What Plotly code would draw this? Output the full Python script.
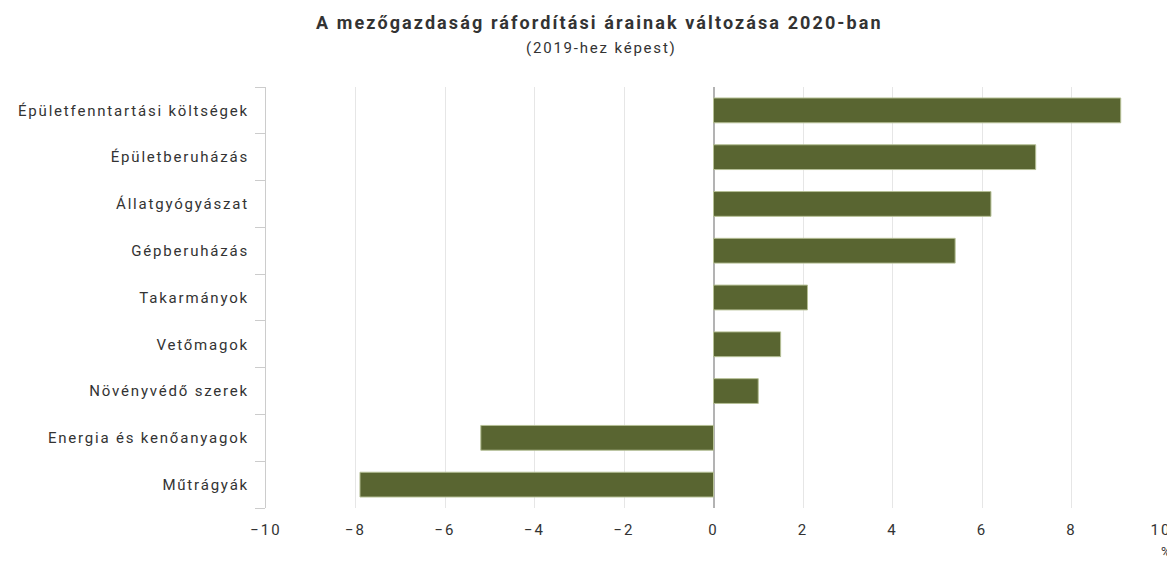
import plotly.graph_objects as go

categories = ["Épületfenntartási költségek", "Épületberuházás", "Állatgyógyászat",
              "Gépberuházás", "Takarmányok", "Vetőmagok", "Növényvédő szerek",
              "Energia és kenőanyagok", "Műtrágyák"]
values = [9.1, 7.2, 6.2, 5.4, 2.1, 1.5, 1.0, -5.2, -7.9]
x_ticks = [-10, -8, -6, -4, -2, 0, 2, 4, 6, 8, 10]
x_tick_labels = ["−10", "−8", "−6", "−4", "−2", "0", "2", "4", "6", "8", "10"]
title = "A mezőgazdaság ráfordítási árainak változása 2020-ban"
subtitle = "(2019-hez képest)"
unit = "%"


def ls(text, px):
    return f'<span style="letter-spacing:{px}px">{text}</span>'


fig = go.Figure(go.Bar(
    y=categories, x=values, orientation="h",
    marker=dict(color="#596531", line=dict(color="#b5bf95", width=1)),
))

font = "Roboto, sans-serif"
# page has an 8px body margin: figure is placed at (8, 8)
W, H = 1167, 561
L, R, T, B = 258, 14, 79, 61
plot_h = H - T - B
plot_w = W - L - R


def ypix(screen_y):
    return (H - B - (screen_y - 8)) / plot_h


def xpix(screen_x):
    return (screen_x - 8 - L) / plot_w


fig.update_layout(
    width=W, height=H,
    margin=dict(l=L, r=R, t=T, b=B, autoexpand=False),
    paper_bgcolor="white", plot_bgcolor="white",
    bargap=0.47,
    showlegend=False,
    font=dict(family=font, size=15, color="#333333"),
    xaxis=dict(range=[-10, 10], tickvals=x_ticks,
               ticktext=[ls(t, 2) for t in x_tick_labels],
               showgrid=True, gridcolor="#e6e6e6", gridwidth=1,
               zeroline=True, zerolinecolor="#b3b3b3", zerolinewidth=2,
               showline=False, ticks="", tickfont=dict(size=15, color="#333333"),
               ticklabelstandoff=11, automargin=False, fixedrange=True),
    yaxis=dict(autorange="reversed", showline=True, linecolor="#cccccc", linewidth=1,
               tickvals=categories, ticktext=[ls(c, 1.8) for c in categories],
               ticks="outside", tickson="boundaries", ticklen=10, tickcolor="#cccccc",
               showgrid=False, tickfont=dict(size=15, color="#333333"),
               ticklabelstandoff=13, automargin=False),
    annotations=[
        dict(text="<b>" + ls(title, 2.1) + "</b>",
             xref="paper", yref="paper", x=xpix(599), y=ypix(23),
             xanchor="center", yanchor="middle",
             showarrow=False, font=dict(size=18, color="#333333", family=font)),
        dict(text=ls(subtitle, 1.8),
             xref="paper", yref="paper", x=xpix(601), y=ypix(48),
             xanchor="center", yanchor="middle",
             showarrow=False, font=dict(size=15, color="#333333", family=font)),
        dict(text=unit, xref="paper", yref="paper", x=xpix(1166), y=ypix(551),
             xanchor="center", yanchor="middle", showarrow=False,
             font=dict(size=13, color="#333333", family=font)),
    ],
)

fig.write_html("out.html")
